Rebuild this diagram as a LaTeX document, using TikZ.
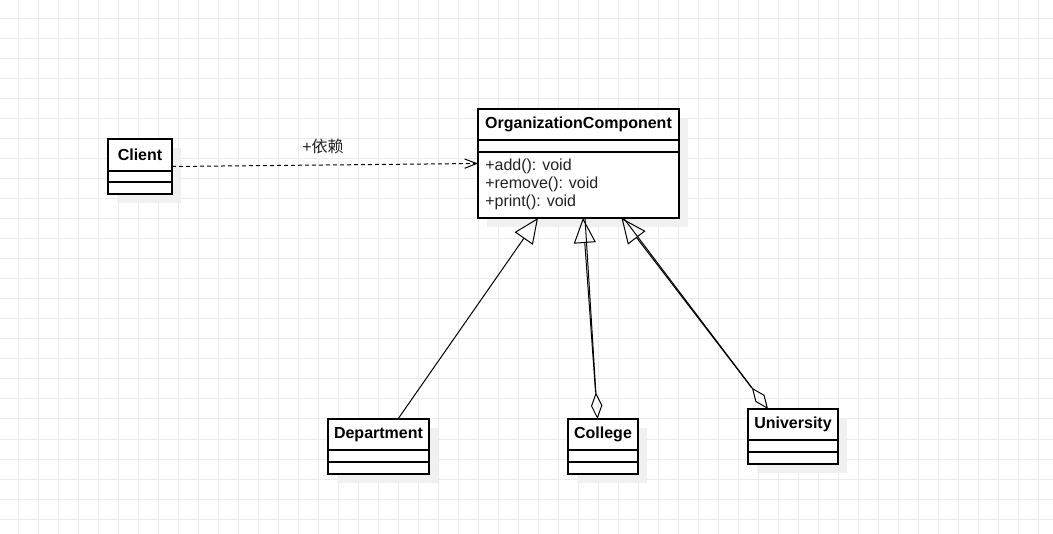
\documentclass[tikz,border=0pt]{standalone}
\usepackage{fontspec}
\setmainfont{Liberation Sans}
\newfontfamily\cjk{Noto Sans CJK SC}
\usetikzlibrary{arrows.meta,fit,calc}
\definecolor{gridc}{HTML}{EBEBEB}
\definecolor{shadowc}{HTML}{F0F0F0}
\definecolor{txtc}{HTML}{222222}
\tikzset{
  cls/.style={draw, fill=white, line width=0.9pt, inner sep=0pt, outer sep=0pt},
  sepline/.style={line width=0.9pt},
  classtitle/.style={font=\fontsize{12pt}{14pt}\selectfont\bfseries, inner sep=0pt},
  meth/.style={font=\fontsize{12pt}{14pt}\selectfont, text=txtc, inner sep=0pt, anchor=west},
  lbl/.style={font=\fontsize{12pt}{14pt}\selectfont, text=txtc, inner sep=0pt},
  dep/.style={line width=0.75pt, dash pattern=on 3pt off 2.25pt, -{Straight Barb[length=9pt,width=7pt,line width=0.75pt]}},
  inh/.style={line width=0.75pt, -{Triangle[open, length=18.75pt, width=16.5pt, line width=0.75pt]}},
  agg/.style={line width=0.75pt, {Diamond[open, length=20pt, width=8.5pt, line width=0.75pt]}-},
}
\newcommand\classbox[8]{%
  \fill[shadowc] (#2+9,#3+9) rectangle (#4+9,#5+9);
  \node[cls, fit={(#2,#3) (#4,#5)}] (#1) {};
  \draw[sepline] (#2,#6) -- (#4,#6);
  \draw[sepline] (#2,#7) -- (#4,#7);
  \node[classtitle] at ($(#2,#3)!0.5!(#4,#6)$) {#8};
}
\begin{document}
\begin{tikzpicture}[x=0.75pt, y=-0.75pt]
\useasboundingbox (0,0) rectangle (1053,534);
\fill[white] (0,0) rectangle (1053,534);
\foreach \gx in {18,38,...,1050} \draw[gridc, line width=0.75pt] (\gx,0) -- (\gx,534);
\foreach \gy in {19,39,...,534} \draw[gridc, line width=0.75pt] (0,\gy) -- (1053,\gy);

\classbox{client}{108}{139}{172}{194}{171}{182}{Client}
\classbox{oc}{478}{109}{679}{218}{140}{152}{OrganizationComponent}
\classbox{dept}{328}{419}{429}{474}{450}{462}{Department}
\classbox{college}{568}{419}{638}{474}{450}{462}{College}
\classbox{univ}{748}{409}{838}{464}{440}{452}{University}

\node[meth] (m1) at (485,166) {+add(): void};
\node[meth] (m2) at (485,184) {+remove(): void};
\node[meth] (m3) at (485,202) {+print(): void};

\draw[dep] (client.east) -- (oc.west);
\node[lbl] (deplbl) at (323,146) {+{\cjk 依赖}};

\draw[inh] ($(dept.north)+(19.5,0)$) -- ($(oc.south)+(-40.5,0)$);

\draw[agg] ($(college.north)+(-5.5,0)$) -- ($(oc.south)+(6.5,0)$);
\draw[inh, shorten <=20pt] ($(college.north)+(-5.5,0)$) -- ($(oc.south)+(4.5,0)$);

\draw[agg] ($(univ.north)+(-25,0)$) -- ($(oc.south)+(45,0)$);
\draw[inh, shorten <=20pt] ($(univ.north)+(-25,0)$) -- ($(oc.south)+(43,0)$);
\end{tikzpicture}
\end{document}
